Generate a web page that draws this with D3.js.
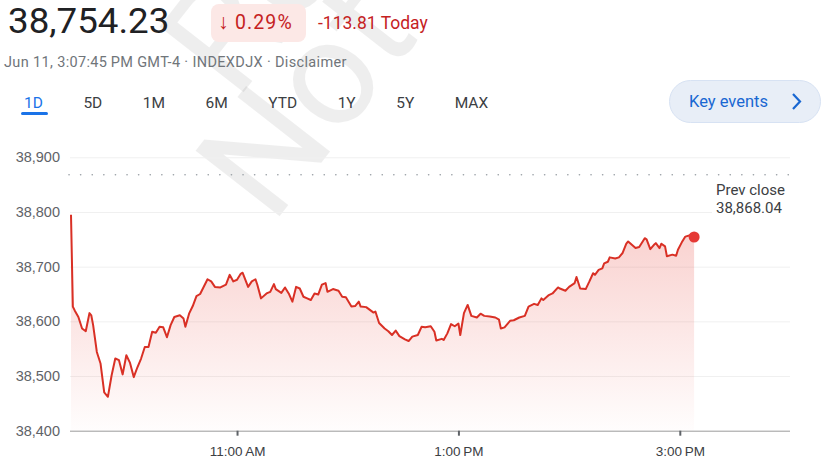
<!DOCTYPE html>
<html>
<head>
	<meta charset="utf-8">
	<title>INDEXDJX 1D</title>
	<style>
	body { margin: 0; background: #fff; }
	svg { display: block; font-family: Roboto, Arial, sans-serif; }
	.ylab text { font-size: 14.5px; fill: #5f6368; }
	.xlab text { font-size: 13.5px; fill: #3c4043; }
	.tab { font-size: 15.5px; fill: #3c4043; text-anchor: start; }
	.tab.active { fill: #1a73e8; }
	.prevtext { font-size: 15px; fill: #3c4043; }
	</style>
	<script src="https://cdn.jsdelivr.net/npm/d3@7"></script>
</head>
<body>
	<script type="text/javascript">
		// 行情数据 (Jun 11, INDEXDJX, 1D)
		var times = ['9:30','9:31','9:32','9:34','9:36','9:38','9:40','9:41','9:42','9:44','9:46','9:48','9:50','9:52','9:54','9:56','9:58',
			'10:00','10:02','10:04','10:06','10:08','10:10','10:12','10:14','10:16','10:18','10:20','10:22','10:24','10:26','10:29','10:31','10:32','10:34','10:36','10:38','10:40','10:44','10:46','10:48','10:51','10:54','10:56','10:58',
			'11:00','11:02','11:03','11:06','11:08','11:10','11:11','11:13','11:16','11:18','11:20','11:21','11:24','11:26','11:28','11:30','11:32','11:34','11:36','11:38','11:40','11:42','11:44','11:46','11:48','11:49','11:52','11:55','11:57','11:59',
			'12:02','12:04','12:06','12:07','12:10','12:12','12:14','12:15','12:17','12:20','12:22','12:24','12:26','12:28','12:31','12:33','12:35','12:38','12:40','12:42','12:45','12:47','12:48','12:51','12:52','12:54','12:56','12:58',
			'13:00','13:01','13:03','13:05','13:07','13:10','13:12','13:14','13:17','13:20','13:22','13:23','13:25','13:28','13:30','13:33','13:36','13:38','13:41','13:43','13:45','13:46','13:49','13:51','13:54','13:55','13:58',
			'14:00','14:03','14:04','14:06','14:09','14:11','14:13','14:14','14:16','14:18','14:19','14:21','14:22','14:25','14:27','14:29','14:31','14:32','14:34','14:36','14:38','14:41','14:42','14:44','14:46','14:47','14:49','14:50','14:52','14:53','14:56','14:58','14:59',
			'15:01','15:03','15:06','15:07:45'];
		var values = [38795,38627,38620,38608,38587,38582,38615,38611,38593,38544,38523,38470,38462,38501,38532,38529,38503,
			38538,38524,38498,38516,38532,38553,38553,38581,38579,38590,38589,38571,38593,38608,38611,38605,38590,38614,38628,38646,38650,38677,38673,38663,38662,38667,38685,38673,
			38676,38687,38689,38663,38673,38677,38667,38642,38651,38654,38668,38659,38652,38662,38651,38636,38663,38660,38645,38642,38639,38651,38649,38667,38670,38654,38659,38656,38645,38644,
			38627,38628,38636,38627,38626,38621,38616,38618,38597,38587,38582,38575,38583,38573,38567,38564,38572,38575,38590,38589,38591,38581,38565,38568,38566,38578,38595,38591,
			38596,38575,38615,38630,38610,38607,38614,38610,38609,38607,38603,38587,38589,38601,38602,38607,38610,38627,38632,38630,38642,38639,38648,38651,38662,38660,38656,
			38663,38670,38681,38660,38659,38673,38688,38685,38694,38697,38706,38709,38717,38715,38717,38725,38742,38746,38740,38734,38736,38752,38750,38732,38740,38743,38734,38742,38737,38719,38722,38720,38731,
			38744,38755,38758,38754.23];

		var prevClose = 38868.04;
		var lastPrice = 38754.23;
		var change = -113.81;
		var changePct = -0.29;
		var yTicks = [38400, 38500, 38600, 38700, 38800, 38900];
		var xTicks = ['11:00', '13:00', '15:00'];
		var tabs = ['1D', '5D', '1M', '6M', 'YTD', '1Y', '5Y', 'MAX'];

		var svgWidth = 822;
		var svgHeight = 463;

		function parseTime(s) {
			var p = s.split(':');
			return new Date(2024, 5, 11, +p[0], +p[1], p[2] ? +p[2] : 0);
		}

		var data = times.map(function (t, i) {
			return { date: parseTime(t), value: values[i] };
		});

		var svg = d3.select('body').append('svg')
			.attr('width', svgWidth)
			.attr('height', svgHeight);

		// 水印
		var wm = svg.append('g')
			.attr('fill', '#000')
			.attr('fill-opacity', 0.065)
			.style('font-family', 'Roboto, Arial, sans-serif');
		wm.append('text')
			.attr('transform', 'translate(272,226) rotate(-52)')
			.attr('font-size', 150)
			.text('Not');
		wm.append('text')
			.attr('transform', 'translate(236,102) rotate(-52)')
			.attr('font-size', 150)
			.text('Re');

		// 顶部价格
		svg.append('text')
			.attr('transform', 'translate(8,33) scale(1.065,1)')
			.attr('font-size', 34.5)
			.attr('fill', '#202124')
			.text(d3.format(',.2f')(lastPrice));

		svg.append('rect')
			.attr('x', 211)
			.attr('y', 4)
			.attr('width', 95)
			.attr('height', 38)
			.attr('rx', 8)
			.attr('fill', '#fce8e6');

		svg.append('text')
			.attr('x', 218)
			.attr('y', 29)
			.attr('font-size', 21)
			.attr('fill', '#c5221f')
			.text('\u2193');
		svg.append('text')
			.attr('x', 235)
			.attr('y', 28.5)
			.attr('font-size', 19.5)
			.attr('letter-spacing', 1.1)
			.attr('fill', '#c5221f')
			.text(Math.abs(changePct).toFixed(2) + '%');

		svg.append('text')
			.attr('x', 318)
			.attr('y', 28.5)
			.attr('font-size', 17.5)
			.attr('fill', '#c5221f')
			.text(change.toFixed(2) + ' Today');

		svg.append('text')
			.attr('x', 4)
			.attr('y', 67)
			.attr('font-size', 14.5)
			.attr('letter-spacing', 0.35)
			.attr('fill', '#70757a')
			.text('Jun 11, 3:07:45\u2009PM GMT-4 \u00b7 INDEXDJX \u00b7 Disclaimer');

		// 时间范围选项卡
		var tabX = 24;
		tabs.forEach(function (t, i) {
			var tx = svg.append('text')
				.attr('class', 'tab' + (i === 0 ? ' active' : ''))
				.attr('x', tabX)
				.attr('y', 108)
				.text(t);
			tabX += tx.node().getComputedTextLength() + 40.5;
		});
		svg.append('rect')
			.attr('x', 21)
			.attr('y', 112)
			.attr('width', 27)
			.attr('height', 3)
			.attr('rx', 1.5)
			.attr('fill', '#1a73e8');

		// Key events 按钮
		svg.append('rect')
			.attr('x', 669.5)
			.attr('y', 80.5)
			.attr('width', 151)
			.attr('height', 42)
			.attr('rx', 21)
			.attr('fill', '#e8eef7')
			.attr('stroke', '#d7e2f3');
		svg.append('text')
			.attr('x', 689)
			.attr('y', 107)
			.attr('font-size', 16.5)
			.attr('fill', '#1967d2')
			.text('Key events');
		svg.append('path')
			.attr('d', 'M793,94L800,101.5L793,109')
			.attr('fill', 'none')
			.attr('stroke', '#1967d2')
			.attr('stroke-width', 2.2);

		// 比例尺
		var x = d3.scaleTime()
			.domain([parseTime('9:30'), parseTime('16:00')])
			.range([71, 790.5]);
		var y = d3.scaleLinear()
			.domain([38400, 38900])
			.range([430.7, 157.3]);

		// y 轴与网格线
		var yAxis = svg.append('g')
			.attr('class', 'ylab')
			.attr('transform', 'translate(70,0)')
			.call(d3.axisLeft(y)
				.tickValues(yTicks)
				.tickSize(-720)
				.tickPadding(10)
				.tickFormat(d3.format(',')));
		yAxis.select('.domain').remove();
		yAxis.selectAll('line').attr('stroke', '#f0f0f0');
		yAxis.selectAll('text').attr('fill', '#5f6368');

		// 面积渐变
		var defs = svg.append('defs');
		var grad = defs.append('linearGradient')
			.attr('id', 'areaGrad')
			.attr('gradientUnits', 'userSpaceOnUse')
			.attr('x1', 0).attr('x2', 0)
			.attr('y1', y(38760)).attr('y2', y(38400));
		grad.append('stop').attr('offset', 0).attr('stop-color', '#e8453c').attr('stop-opacity', 0.24);
		grad.append('stop').attr('offset', 1).attr('stop-color', '#e8453c').attr('stop-opacity', 0.01);

		var area = d3.area()
			.x(function (d) { return x(d.date); })
			.y0(y(38400))
			.y1(function (d) { return y(d.value); });
		svg.append('path')
			.datum(data)
			.attr('d', area)
			.attr('fill', 'url(#areaGrad)');

		// 前收盘虚线
		svg.append('line')
			.attr('x1', 69)
			.attr('x2', 790)
			.attr('y1', y(prevClose))
			.attr('y2', y(prevClose))
			.attr('stroke', '#9aa0a6')
			.attr('stroke-width', 1.6)
			.attr('stroke-linecap', 'round')
			.attr('stroke-dasharray', '0.1,11.5');

		svg.append('rect')
			.attr('x', 712)
			.attr('y', 181)
			.attr('width', 80)
			.attr('height', 36)
			.attr('fill', '#fff');
		svg.append('text')
			.attr('class', 'prevtext')
			.attr('x', 716)
			.attr('y', 195)
			.text('Prev close');
		svg.append('text')
			.attr('class', 'prevtext')
			.attr('x', 716)
			.attr('y', 213)
			.text(d3.format(',.2f')(prevClose));

		// 折线
		var line = d3.line()
			.x(function (d) { return x(d.date); })
			.y(function (d) { return y(d.value); });
		svg.append('path')
			.datum(data)
			.attr('d', line)
			.attr('fill', 'none')
			.attr('stroke', '#d93025')
			.attr('stroke-width', 2)
			.attr('stroke-linejoin', 'round');

		var last = data[data.length - 1];
		svg.append('circle')
			.attr('cx', x(last.date))
			.attr('cy', y(last.value))
			.attr('r', 5.5)
			.attr('fill', '#e53935');

		// x 轴
		var xAxis = svg.append('g')
			.attr('class', 'xlab')
			.attr('transform', 'translate(0,' + y(38400) + ')')
			.call(d3.axisBottom(x)
				.tickValues(xTicks.map(parseTime))
				.tickSize(5)
				.tickPadding(11)
				.tickFormat(d3.timeFormat('%-I:%M\u2009%p')));
		xAxis.select('.domain')
			.attr('d', 'M70,0.5H790')
			.attr('stroke', '#a0a0a0');
		xAxis.selectAll('line')
			.attr('stroke', '#5f6368')
			.attr('stroke-width', 2);
	</script>
</body>
</html>
